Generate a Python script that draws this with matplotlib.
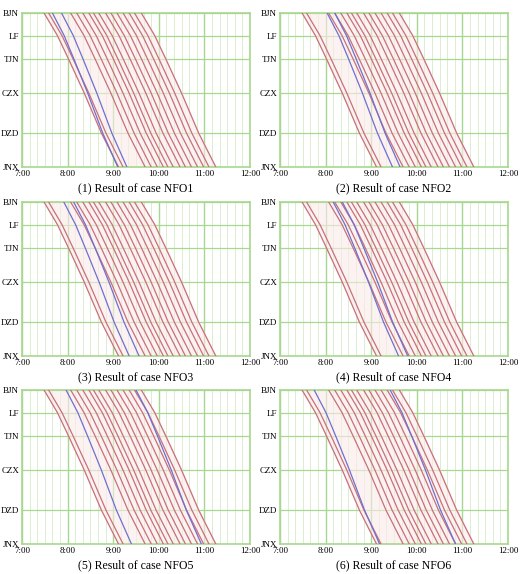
import matplotlib
matplotlib.use("Agg")
import matplotlib.pyplot as plt
import numpy as np

stations = ["BJN", "LF", "TJN", "CZX", "DZD", "JNX"]
station_pos = [0.0, 0.147, 0.30, 0.52, 0.78, 1.0]
time_frac = [0.0, 0.18, 0.33, 0.54, 0.77, 1.0]
red_run_min = 98
blue_run_min = 86

red_dep = ["7:29", "7:35", "8:04", "8:12", "8:20", "8:28", "8:34", "8:41", "8:50",
           "8:57", "9:05", "9:13", "9:21", "9:28", "9:37"]
blue_dep = {
    1: ["7:40", "7:52"],
    2: ["8:02", "8:12"],
    3: ["7:55", "8:08"],
    4: ["8:10", "8:22"],
    5: ["7:58", "9:30"],
    6: ["7:45", "9:25"],
}
captions = {i: f"({i}) Result of case NFO{i}" for i in range(1, 7)}
xticks = ["7:00", "8:00", "9:00", "10:00", "11:00", "12:00"]

def tomin(s):
    h, m = s.split(":")
    return int(h) * 60 + int(m)

fig = plt.figure(figsize=(5.2, 5.74), dpi=100)
W, H = 520, 574
lefts = [22, 280]
tops = [13, 202, 390]
aw, ah = 228, 154
red = "#c8707a"
blue = "#6f6fd0"
grid_major = "#a8d890"
grid_minor = "#d4ecc8"

for idx in range(6):
    r, c = divmod(idx, 2)
    ax = fig.add_axes([lefts[c] / W, 1 - (tops[r] + ah) / H, aw / W, ah / H])
    xmin, xmax = tomin("7:00"), tomin("12:00")
    for t in range(xmin, xmax + 1, 10):
        major = (t % 60 == 0)
        ax.axvline(t, color=grid_major if major else grid_minor,
                   lw=1.0 if major else 0.6, zorder=0)
    for p in station_pos:
        ax.axhline(p, color=grid_major, lw=0.9, zorder=0)
    bd = [tomin(s) for s in blue_dep[idx + 1]]
    deps = [(tomin(s), red_run_min, red) for s in red_dep] + \
           [(d, blue_run_min, blue) for d in bd]
    for d, run, col in deps:
        xs = [d + f * run for f in time_frac]
        ax.plot(xs, station_pos, color=col, lw=0.9, zorder=3)
    first = [tomin(red_dep[0]) + f * red_run_min for f in time_frac]
    last = [tomin(red_dep[-1]) + f * red_run_min for f in time_frac]
    ax.fill_betweenx(station_pos, first, last, color="#fbeaea", alpha=0.6, zorder=1)
    ax.set_xlim(xmin, xmax)
    ax.set_ylim(1.0, 0.0)
    ax.set_yticks(station_pos)
    ax.set_yticklabels(stations, family="Liberation Serif", fontsize=6.5)
    ax.set_xticks([tomin(s) for s in xticks])
    ax.set_xticklabels(xticks, family="Liberation Serif", fontsize=6.5)
    ax.tick_params(length=0, pad=2)
    for s in ax.spines.values():
        s.set_color(grid_major)
        s.set_linewidth(1.2)
    ax.text(0.5, -0.1, captions[idx + 1], transform=ax.transAxes, ha="center",
            va="top", family="Liberation Serif", fontsize=8.5)

fig.savefig("out.png", dpi=100)
